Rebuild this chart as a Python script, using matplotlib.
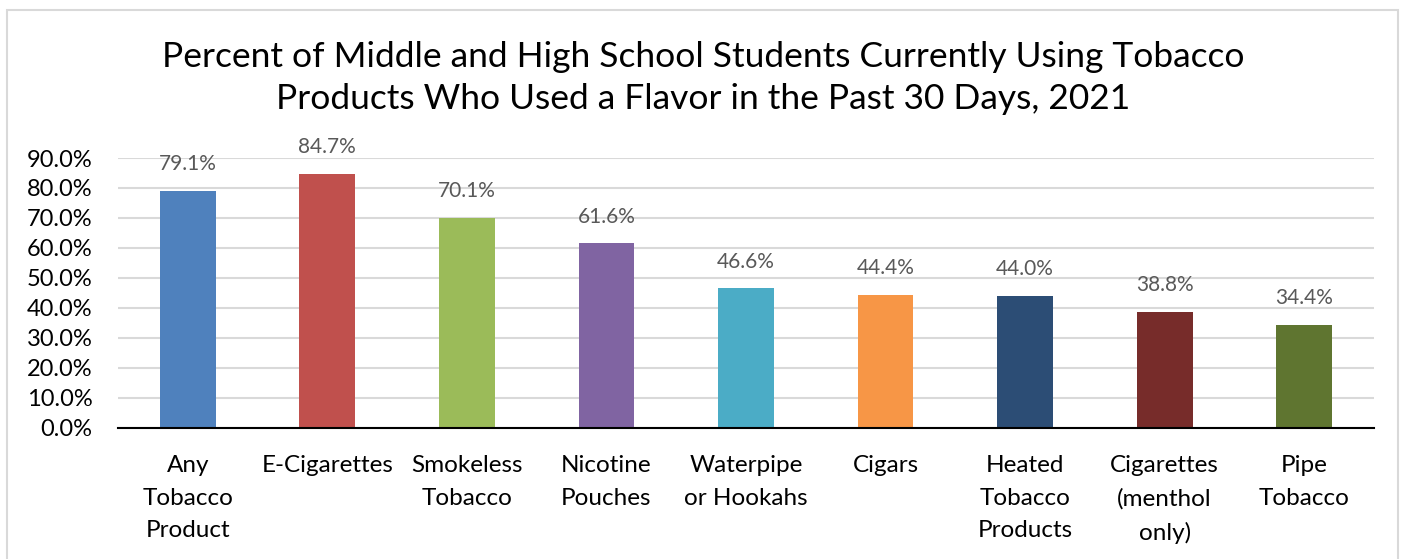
import matplotlib.pyplot as plt
from matplotlib.patches import Rectangle

plt.rcParams['font.family'] = ['Lato', 'DejaVu Sans']

categories = ['Any\nTobacco\nProduct', 'E-Cigarettes', 'Smokeless\nTobacco', 'Nicotine\nPouches',
              'Waterpipe\nor Hookahs', 'Cigars', 'Heated\nTobacco\nProducts',
              'Cigarettes\n(menthol\nonly)', 'Pipe\nTobacco']
values = [79.1, 84.7, 70.1, 61.6, 46.6, 44.4, 44.0, 38.8, 34.4]
colors = ['#4F81BD', '#C0504D', '#9BBB59', '#8064A2', '#4BACC6',
          '#F79646', '#2C4D75', '#772C2A', '#5F7530']
yticks = [0, 10, 20, 30, 40, 50, 60, 70, 80, 90]

fig = plt.figure(figsize=(14.06, 5.59), dpi=100)
# chart border
fig.patches.append(Rectangle((7/1406, -0.01), 1391/1406, 1 - 10/559 + 0.01,
                             transform=fig.transFigure, fill=False,
                             edgecolor='#D9D9D9', linewidth=1.5))
ax = fig.add_axes([118/1406, 1 - 428/559, 1256/1406, 270/559])

x = range(len(values))
bars = ax.bar(x, values, width=0.4, color=colors, zorder=3)
for b, v in zip(bars, values):
    ax.annotate('%.1f%%' % v, (b.get_x() + b.get_width()/2, v), xytext=(0, 12),
                textcoords='offset points', ha='center', va='bottom',
                fontsize=15, color='#595959')

ax.set_xlim(-0.5, len(values) - 0.5)
ax.set_ylim(0, 90)
ax.set_yticks(yticks)
ax.set_yticklabels(['%.1f%%' % t for t in yticks], fontsize=17)
ax.set_xticks(list(x))
ax.set_xticklabels(categories, fontsize=17.5, linespacing=1.68)
ax.tick_params(axis='both', length=0)
ax.tick_params(axis='y', pad=18.5)
ax.tick_params(axis='x', pad=19.5)
ax.grid(axis='y', color='#D9D9D9', linewidth=1.5, zorder=0)
for s in ['top', 'right', 'left']:
    ax.spines[s].set_visible(False)
ax.spines['bottom'].set_color('#000000')
ax.spines['bottom'].set_linewidth(1.5)
ax.spines['bottom'].set_zorder(4)

fig.text(0.5, 1 - 78/559, 'Percent of Middle and High School Students Currently Using Tobacco\n'
         'Products Who Used a Flavor in the Past 30 Days, 2021',
         ha='center', va='center', fontsize=25.5, linespacing=1.4)

fig.savefig('out.png', dpi=100)
